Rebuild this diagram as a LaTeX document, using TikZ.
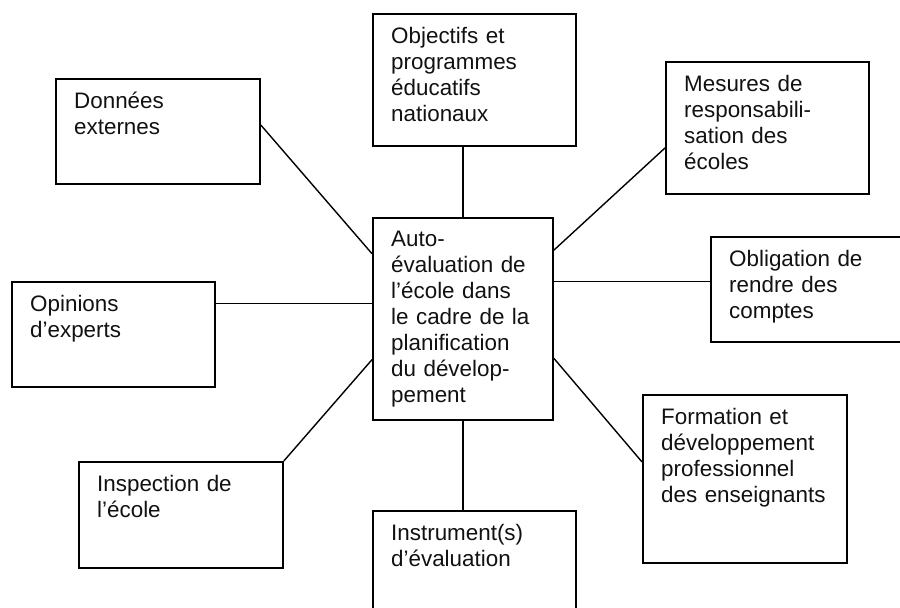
\documentclass[tikz,border=0pt]{standalone}
\usepackage{fontspec}
\setmainfont{Liberation Sans}
\usetikzlibrary{positioning,calc}
\definecolor{evalLine}{HTML}{000000}
\definecolor{evalText}{HTML}{111111}

\tikzset{
  box/.style={draw=evalLine, line width=1.8pt, anchor=north west, inner sep=0pt},
  boxtext/.style={anchor=base west, inner sep=0pt, text width=200, align=left,
    text=evalText, font=\fontsize{22.4}{26}\selectfont},
  link/.style={draw=evalLine, line width=1.4pt}
}

\begin{document}
\begin{tikzpicture}[x=1pt, y=-1pt]

\useasboundingbox (0,0) rectangle (900,608);
\clip (0,0) rectangle (900,608);

% --- BOXES ---
\node[box, minimum width=180, minimum height=202] (center)     at (372,217) {};
\node[box, minimum width=203, minimum height=132] (objectifs)  at (372,13)  {};
\node[box, minimum width=204, minimum height=105] (donnees)    at (55,78)   {};
\node[box, minimum width=203, minimum height=132] (mesures)    at (665,61)  {};
\node[box, minimum width=203, minimum height=105] (obligation) at (710,236) {};
\node[box, minimum width=203, minimum height=105] (opinions)   at (11,281)  {};
\node[box, minimum width=204, minimum height=106] (inspection) at (78,461)  {};
\node[box, minimum width=204, minimum height=168] (formation)  at (642,394) {};
\node[box, minimum width=203, minimum height=105] (instrument) at (372,510) {};

% --- TEXTS ---
\node[boxtext] (centerTxt) at ([shift={(19,29)}]center.north west)
  {Auto-\\évaluation de\\l’école dans\\le cadre de la\\planification\\du dévelop-\\pement};
\node[boxtext] (objectifsTxt) at ([shift={(19,30)}]objectifs.north west)
  {Objectifs et\\programmes\\éducatifs\\nationaux};
\node[boxtext] (donneesTxt) at ([shift={(19,30)}]donnees.north west)
  {Données\\externes};
\node[boxtext] (mesuresTxt) at ([shift={(19,30)}]mesures.north west)
  {Mesures de\\responsabili-\\sation des\\écoles};
\node[boxtext] (obligationTxt) at ([shift={(19,30)}]obligation.north west)
  {Obligation de\\rendre des\\comptes};
\node[boxtext] (opinionsTxt) at ([shift={(19,30)}]opinions.north west)
  {Opinions\\d’experts};
\node[boxtext] (inspectionTxt) at ([shift={(19,30)}]inspection.north west)
  {Inspection de\\l’école};
\node[boxtext] (formationTxt) at ([shift={(19,30)}]formation.north west)
  {Formation et\\développement\\professionnel\\des enseignants};
\node[boxtext] (instrumentTxt) at ([shift={(19,30)}]instrument.north west)
  {Instrument(s)\\d’évaluation};

% --- CONNECTORS ---
\draw[link] ($(donnees.north east)!0.44!(donnees.south east)$)
  -- ($(center.north west)!0.18!(center.south west)$);
\draw[link] (center.north |- objectifs.south) -- (center.north);
\draw[link] ($(center.north east)!0.163!(center.south east)$)
  -- ($(mesures.north west)!0.65!(mesures.south west)$);
\coordinate (toObligation) at ($(center.north east)!0.317!(center.south east)$);
\draw[link] (toObligation) -- (toObligation -| obligation.west);
\coordinate (fromOpinions) at ($(opinions.north east)!0.21!(opinions.south east)$);
\draw[link] (fromOpinions) -- (fromOpinions -| center.west);
\draw[link] (inspection.north east)
  -- ($(center.north west)!0.70!(center.south west)$);
\draw[link] (center.south) -- (center.south |- instrument.north);
\draw[link] ($(center.north east)!0.693!(center.south east)$)
  -- ($(formation.north west)!0.40!(formation.south west)$);

\end{tikzpicture}
\end{document}
